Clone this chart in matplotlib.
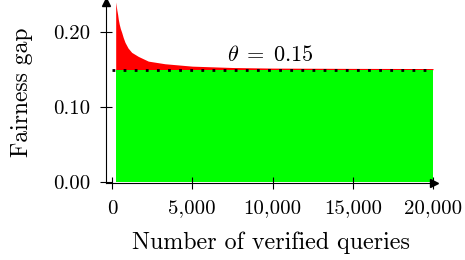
import numpy as np
import matplotlib.pyplot as plt

plt.rcParams['font.family'] = ['cmr10']
plt.rcParams['mathtext.fontset'] = 'cm'
plt.rcParams['axes.formatter.use_mathtext'] = True

# values
queries = [230, 260, 300, 350, 393, 450, 520, 602, 700, 810, 1000, 1227, 1640,
           2263, 3300, 5000, 7500, 10000, 15000, 20000]
gap = [0.2405, 0.2360, 0.2300, 0.2240, 0.2174, 0.2110, 0.2050, 0.2000, 0.1930,
       0.1866, 0.1790, 0.1732, 0.1678, 0.1615, 0.1580, 0.1548, 0.1530, 0.1522,
       0.1518, 0.1516]
theta = 0.15
xticks = [0, 5000, 10000, 15000, 20000]
yticks = [0.0, 0.1, 0.2]

W, H = 465, 260
fig = plt.figure(figsize=(W / 100, H / 100), dpi=100)
ax = fig.add_axes([105.5 / W, (H - 183) / H, (433.5 - 105.5) / W, (183 - 2) / H])

ax.fill_between(queries, theta, gap, color=(1, 0, 0), lw=0)
ax.fill_between(queries, 0, theta, color=(0, 1, 0), lw=0)
ax.plot([0, 20000], [theta, theta], color='black', lw=2,
        linestyle=(0, (1, 3)), dash_capstyle='butt')
ax.text(9850, 0.157, r'$\theta\;=\;0.15$', fontsize=16, ha='center', va='bottom')

ax.set_xlim(-405, 20030)
ax.set_ylim(-0.0013, 0.2405)
ax.set_xticks(xticks)
ax.set_xticklabels(['0', '5,000', '10,000', '15,000', '20,000'])
ax.set_yticks(yticks)
ax.set_yticklabels(['0.00', '0.10', '0.20'])
ax.tick_params(direction='inout', length=8, width=0.8, labelsize=15)
ax.tick_params(axis='y', pad=7)
ax.tick_params(axis='x', pad=8)

for s in ['top', 'right']:
    ax.spines[s].set_visible(False)
for s in ['left', 'bottom']:
    ax.spines[s].set_linewidth(0.8)
ax.plot(1, 0, marker='>', color='black', ms=6, transform=ax.transAxes, clip_on=False)
ax.plot(0, 1, marker='^', color='black', ms=6, transform=ax.transAxes, clip_on=False)

ax.set_xlabel('Number of verified queries', fontsize=17.3, labelpad=10)
ax.set_ylabel('Fairness gap', fontsize=17, labelpad=10)
ax.xaxis.set_label_coords((271 - 105.5) / (433.5 - 105.5), -(243 - 183) / (183 - 2))
ax.yaxis.set_label_coords(-(105.5 - 22) / (433.5 - 105.5), (183 - 92) / (183 - 2))
ax.xaxis.label.set_va('center')
ax.yaxis.label.set_va('center')

fig.savefig('out.png', dpi=100)
